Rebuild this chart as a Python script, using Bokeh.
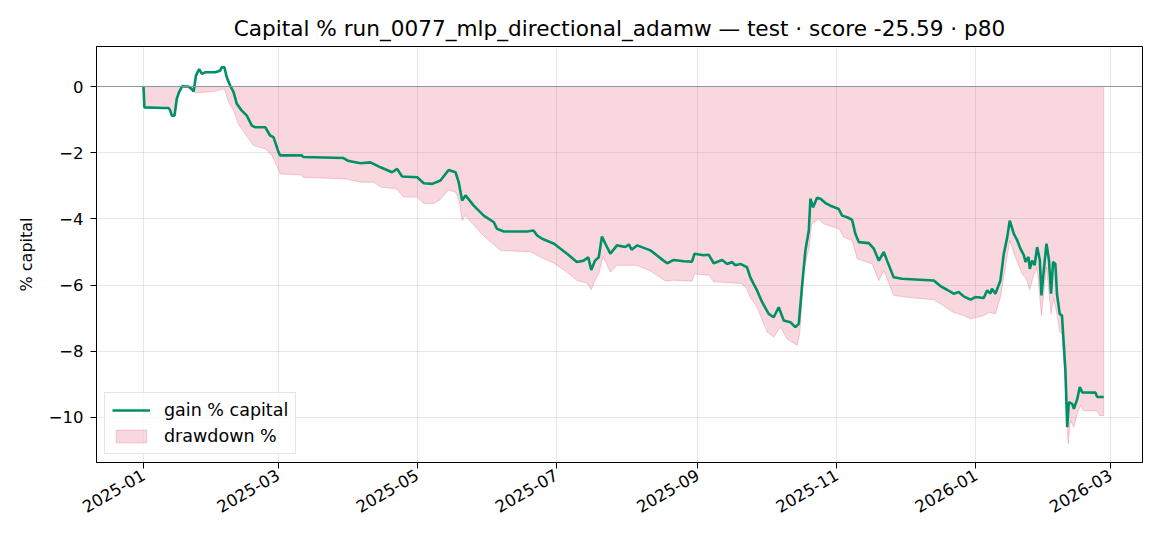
import math
import numpy as np
import pandas as pd
from bokeh.plotting import figure
from bokeh.models import (ColumnDataSource, Range1d, FixedTicker, DatetimeTickFormatter,
                          Span, Legend, LegendItem)
from bokeh.embed import file_html
from bokeh.resources import INLINE

# ---------------- data ----------------
start_date = "2025-01-01"

gain_days = [0, 0.4, 8.8, 11, 11.7, 12.4, 13.6, 14.6, 15.6, 17, 19.7, 21, 22, 23, 24.4, 25.6, 27,
             31.4, 33.6, 34.3, 35.5, 36.5, 38, 39.5, 40.9, 43, 45.3, 47.5, 49, 53.4, 55.5, 57,
             59.2, 59.9, 69.4, 70, 87.7, 89.6, 95.1, 99.5, 103.9, 109, 111.2, 113.4, 120, 122.9,
             126.6, 130.2, 133.8, 136.8, 138.2, 139.7, 141.2, 144.8, 149.2, 153.6, 155, 158,
             168.2, 171, 172.6, 174.8, 180, 185.7, 190, 193, 195, 196.3, 198, 199.6, 201, 202.5,
             204.7, 207.6, 211.3, 212.8, 214, 216.4, 222.3, 228, 229.6, 232.5, 236.9, 240.5,
             241.6, 245.6, 247.8, 250, 253.7, 255.9, 258, 259.5, 261.7, 264.6, 266, 267.5, 269,
             271.2, 274.1, 276.3, 278.5, 280.7, 283.6, 285.8, 287.3, 288.7, 290.2, 291.7, 292.4,
             293.6, 295.3, 296.8, 299, 301.2, 304.8, 306.3, 308.5, 310.7, 312.1, 313.6, 318,
             320.2, 322.4, 324.6, 326, 328.9, 332.6, 346.5, 349.4, 352.3, 355.2, 357.4, 359.6,
             362.6, 364.7, 368.4, 369.9, 371.3, 372, 373.5, 375.7, 377.2, 378.7, 379.8, 381.6,
             383.1, 384.5, 386, 386.7, 388, 388.6, 389.6, 390.7, 391.8, 393, 393.7, 394.7, 395.9,
             397, 397.9, 398.8, 399.8, 400.5, 401.7, 402.7, 404.2, 405, 405.7, 407.2, 407.9,
             409.4, 410.5, 411.6, 417.4, 418.1, 421]
gain_pct = [0.0, -0.63, -0.65, -0.65, -0.72, -0.88, -0.88, -0.37, -0.17, 0.01, 0.0, -0.07, -0.15,
            0.33, 0.53, 0.38, 0.43, 0.43, 0.48, 0.58, 0.58, 0.28, 0.03, -0.17, -0.52, -0.72,
            -0.88, -1.18, -1.23, -1.23, -1.48, -1.53, -1.98, -2.08, -2.08, -2.13, -2.16, -2.24,
            -2.32, -2.29, -2.44, -2.59, -2.49, -2.72, -2.74, -2.92, -2.94, -2.84, -2.52, -2.59,
            -2.89, -3.44, -3.29, -3.6, -3.9, -4.1, -4.3, -4.38, -4.38, -4.35, -4.5, -4.6, -4.75,
            -5.05, -5.3, -5.26, -5.16, -5.54, -5.26, -5.16, -4.53, -4.75, -5.05, -4.8, -4.85,
            -4.77, -4.93, -4.8, -4.95, -5.26, -5.34, -5.24, -5.28, -5.29, -5.05, -5.1, -5.08,
            -5.34, -5.24, -5.36, -5.3, -5.4, -5.36, -5.46, -5.76, -5.96, -6.16, -6.51, -6.87,
            -6.97, -6.67, -7.07, -7.12, -7.27, -7.17, -6.06, -4.95, -4.35, -3.39, -3.65, -3.36,
            -3.39, -3.52, -3.6, -3.7, -3.9, -3.95, -4.03, -4.45, -4.7, -4.73, -4.9, -5.26, -5.0,
            -5.26, -5.76, -5.81, -5.86, -6.03, -6.14, -6.26, -6.21, -6.34, -6.44, -6.36, -6.39,
            -6.16, -6.26, -6.11, -6.26, -5.86, -5.05, -4.55, -4.05, -4.45, -4.65, -4.9, -5.1,
            -5.3, -5.15, -5.51, -5.26, -5.4, -4.85, -5.25, -6.31, -5.56, -4.75, -5.25, -6.26,
            -5.3, -5.36, -6.26, -6.87, -6.92, -8.58, -10.29, -9.54, -9.59, -9.74, -9.44, -9.08,
            -9.24, -9.25, -9.38, -9.38]

dd_days = [0, 0.4, 8.8, 11, 11.7, 12.4, 13.6, 14.6, 15.6, 17, 21, 22, 23, 27, 31, 33.5, 35.5,
           37.3, 39.5, 41.6, 44.6, 48.2, 53.4, 56.3, 58.5, 59.9, 69.4, 70, 89, 95, 101, 104,
           111, 114, 120, 123, 127, 130, 133.8, 137, 138.5, 139.7, 141, 145, 149, 154, 156.5,
           170, 174, 180, 185.7, 190, 194.5, 196.3, 198, 199.6, 201.5, 204.7, 207.6, 216, 222,
           229, 232.5, 240.5, 241.6, 248, 250, 262, 264.6, 266, 269, 273.4, 276.3, 279.3, 282.2,
           286.6, 287.8, 289.5, 291.7, 293, 296, 298.3, 305, 307, 310.7, 312.9, 319.5, 322.4,
           324.6, 328.9, 334.8, 346.5, 349.4, 355, 359.6, 362.6, 368.4, 371, 373.5, 375.7, 377.9,
           379.8, 382.3, 385.2, 387, 388.6, 390, 391.8, 393.7, 395.9, 397.9, 399, 400.5, 401.7,
           402.7, 404.2, 405.4, 406.4, 407.9, 409.4, 410.8, 412.2, 418, 419.2, 421]
dd_pct = [0.0, -0.63, -0.65, -0.65, -0.72, -0.88, -0.88, -0.37, -0.17, 0.0, -0.07, -0.15, -0.19,
          -0.17, -0.14, -0.1, -0.07, -0.47, -0.72, -1.13, -1.43, -1.78, -1.88, -2.08, -2.39,
          -2.64, -2.67, -2.74, -2.79, -2.89, -2.89, -3.04, -3.09, -3.34, -3.34, -3.54, -3.54,
          -3.42, -3.12, -3.2, -3.5, -4.05, -3.9, -4.2, -4.5, -4.8, -4.95, -5.0, -5.15, -5.34,
          -5.61, -5.86, -5.94, -6.14, -5.85, -5.66, -5.14, -5.61, -5.4, -5.4, -5.56, -5.88,
          -5.85, -5.88, -5.66, -5.7, -5.9, -5.95, -6.11, -6.37, -6.67, -7.42, -7.57, -7.27,
          -7.63, -7.82, -7.42, -5.56, -4.9, -4.15, -4.0, -4.15, -4.3, -4.55, -4.65, -5.2, -5.36,
          -5.86, -5.56, -6.31, -6.37, -6.44, -6.56, -6.82, -6.92, -7.02, -6.92, -6.82, -6.87,
          -6.36, -5.46, -4.65, -5.16, -5.66, -5.8, -6.14, -5.75, -5.46, -6.92, -5.46, -6.87,
          -6.4, -6.87, -7.42, -7.47, -9.08, -10.79, -10.09, -10.29, -9.89, -9.64, -9.79, -9.8,
          -9.94, -9.94]

x_tick_labels = ["2025-01", "2025-03", "2025-05", "2025-07", "2025-09", "2025-11", "2026-01", "2026-03"]
y_ticks = [-10, -8, -6, -4, -2, 0]

# ---------------- build ----------------
t0 = pd.Timestamp(start_date)
gain_x = t0 + pd.to_timedelta(np.array(gain_days), unit="D")
dd_x = t0 + pd.to_timedelta(np.array(dd_days), unit="D")

poly_x = list(dd_x) + [dd_x[-1], dd_x[0]]
poly_y = list(dd_pct) + [0.0, 0.0]

FONT = "DejaVu Sans"
FS = "16.5px"
p = figure(width=1166, height=540, x_axis_type="datetime", output_backend="svg",
           toolbar_location=None,
           x_range=Range1d(t0 - pd.Timedelta(days=20.6), t0 + pd.Timedelta(days=438)),
           y_range=Range1d(-11.36, 1.21),
           min_border_left=96, min_border_right=24, min_border_top=46, min_border_bottom=78)
p.background_fill_color = "white"
p.border_fill_color = "white"
p.outline_line_color = "black"
p.outline_line_width = 1

p.title.text = "Capital % run_0077_mlp_directional_adamw \u2014 test \u00b7 score -25.59 \u00b7 p80"
p.title.text_font = FONT
p.title.text_font_size = "21.6px"
p.title.text_font_style = "normal"
p.title.align = "center"
p.title.text_color = "black"
p.title.standoff = 11

src_dd = ColumnDataSource(dict(x=poly_x, y=poly_y))
dd_r = p.patch("x", "y", source=src_dd, fill_color="#e35f7b", fill_alpha=0.25,
               line_color="#e35f7b", line_alpha=0.3, line_width=1)

p.add_layout(Span(location=0, dimension="width", line_color="#8a98a6", line_width=1.1))

src_g = ColumnDataSource(dict(x=gain_x, y=gain_pct))
g_r = p.line("x", "y", source=src_g, line_color="#009068", line_width=2.6)

tick_pos = [pd.Timestamp(s + "-01").value / 1e6 for s in x_tick_labels]
p.xaxis.ticker = FixedTicker(ticks=tick_pos)
p.xaxis.formatter = DatetimeTickFormatter(days="%Y-%m", months="%Y-%m", years="%Y-%m")
p.xaxis.major_label_orientation = math.pi / 6

p.yaxis.ticker = FixedTicker(ticks=y_ticks)
p.yaxis.major_label_overrides = {v: (str(v).replace("-", "\u2212")) for v in y_ticks}
p.yaxis.axis_label = "% capital"
p.yaxis.axis_label_text_font = FONT
p.yaxis.axis_label_text_font_size = "16px"
p.yaxis.axis_label_text_font_style = "normal"
p.yaxis.axis_label_text_color = "black"
p.yaxis.axis_label_standoff = 10

for ax in (p.xaxis, p.yaxis):
    ax.major_label_text_font = FONT
    ax.major_label_text_font_size = FS
    ax.major_label_text_color = "black"
    ax.axis_line_color = "black"
    ax.major_tick_line_color = "black"
    ax.major_tick_out = 6
    ax.major_tick_in = 0
    ax.minor_tick_line_color = None
p.yaxis.major_label_standoff = 7
p.xaxis.major_label_standoff = 5

for g in (p.xgrid, p.ygrid):
    g.grid_line_color = "#b0b0b0"
    g.grid_line_alpha = 0.3
    g.grid_line_width = 1

legend = Legend(items=[LegendItem(label="gain % capital", renderers=[g_r]),
                       LegendItem(label="drawdown %", renderers=[dd_r])],
                location="bottom_left")
legend.label_text_font = FONT
legend.label_text_font_size = "17.5px"
legend.label_text_color = "black"
legend.label_height = 19
legend.border_line_color = "#cccccc"
legend.border_line_width = 1
legend.background_fill_alpha = 0.8
legend.glyph_width = 38
legend.glyph_height = 16
legend.label_standoff = 14
legend.spacing = 6
legend.padding = 7
legend.margin = 8
p.add_layout(legend)

open("out.html", "w").write(file_html(p, INLINE))
